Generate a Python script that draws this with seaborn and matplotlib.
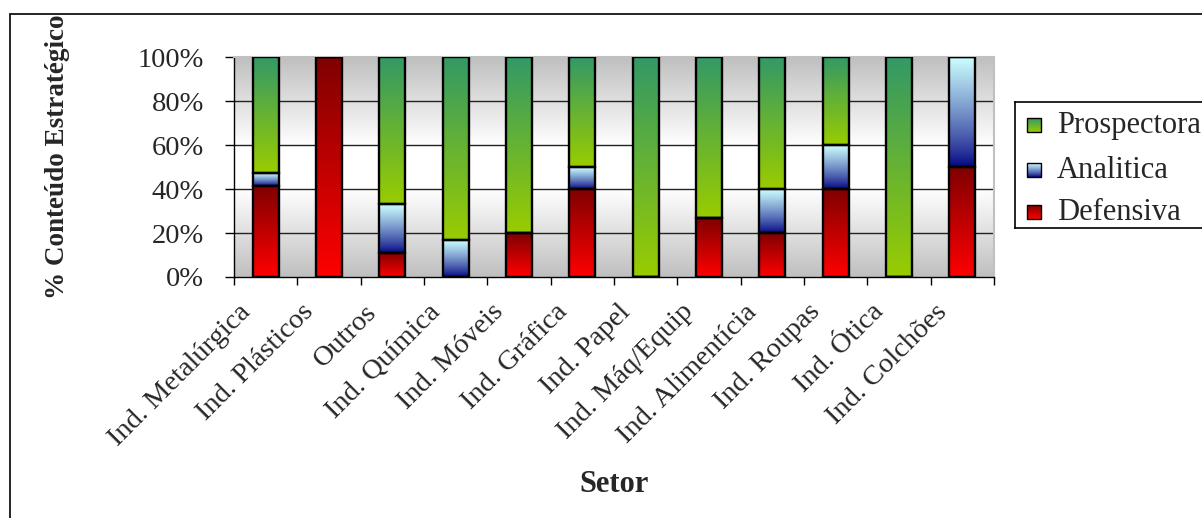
import numpy as np
import pandas as pd
import matplotlib
matplotlib.use("Agg")
import matplotlib.pyplot as plt
import seaborn as sns
from matplotlib.colors import to_rgb
from matplotlib.patches import Rectangle
import matplotlib.transforms as mtransforms

# ---------------- data ----------------
categories = ["Ind. Metalúrgica", "Ind. Plásticos", "Outros", "Ind. Química",
              "Ind. Móveis", "Ind. Gráfica", "Ind. Papel", "Ind. Máq/Equip",
              "Ind. Alimentícia", "Ind. Roupas", "Ind. Ótica", "Ind. Colchões"]
defensiva = [41.2, 100, 11.1, 0, 20, 40, 0, 26.7, 20, 40, 0, 50]
analitica = [5.9, 0, 22.2, 16.7, 0, 10, 0, 0, 20, 20, 0, 50]
prospectora = [52.9, 0, 66.7, 83.3, 80, 50, 100, 73.3, 60, 40, 100, 0]
series_order = ["Defensiva", "Analitica", "Prospectora"]   # bottom -> top
legend_order = ["Prospectora", "Analitica", "Defensiva"]
yticks = [0, 20, 40, 60, 80, 100]
ytick_labels = ["0%", "20%", "40%", "60%", "80%", "100%"]
ylabel = "% Conteúdo Estratégico"
xlabel = "Setor"

# gradient colours (bottom, top, curve exponent)
grad_colors = {
    "Prospectora": ("#99CC00", "#339966", 1.0),
    "Analitica": ("#000080", "#CCFFFF", 0.8),
    "Defensiva": ("#FF0000", "#800000", 1.0),
}

sns.set_style("white")
plt.rcParams["font.family"] = ["Liberation Serif", "DejaVu Serif"]

W, H = 1202, 518
fig = plt.figure(figsize=(W / 100, H / 100), dpi=100)
ax = fig.add_axes([234 / W, 1 - 277 / H, 760 / W, 220 / H])

df = pd.DataFrame({"Setor": categories, "Defensiva": defensiva,
                   "Analitica": analitica, "Prospectora": prospectora})
n = len(categories)


def gradient(name, steps=256):
    cb, ct, ex = grad_colors[name]
    b, t = np.array(to_rgb(cb)), np.array(to_rgb(ct))
    s = np.linspace(0, 1, steps) ** ex
    arr = b[None, :] + (t - b)[None, :] * s[:, None]
    return arr.reshape(steps, 1, 3)


# background gradient (gray - white - gray)
tt = np.linspace(0, 1, 256)
v = 1 - np.abs(tt - 0.5) * 2
g = 0.75 + 0.25 * np.clip(v * 1.25, 0, 1)
bg = np.repeat(g[:, None, None], 3, axis=2)
ax.imshow(bg, extent=(-0.5, n - 0.5, 0, 100), origin="lower", aspect="auto",
          zorder=0, interpolation="bilinear")

lower = np.zeros(n)
for name in series_order:
    vals = df[name].to_numpy(dtype=float)
    top = lower + vals
    before = len(ax.patches)
    sns.barplot(data=df.assign(_top=top), x="Setor", y="_top", order=categories,
                width=0.41, color="white", saturation=1, errorbar=None, ax=ax)
    new = ax.patches[before:]
    for p, b, t in zip(new, lower, top):
        p.set_y(b)
        p.set_height(t - b)
        p.set_facecolor("none")
        p.set_edgecolor("black")
        p.set_linewidth(1.7)
        p.set_zorder(4)
        if t - b > 0:
            x0 = p.get_x()
            ax.imshow(gradient(name), extent=(x0, x0 + p.get_width(), b, t),
                      origin="lower", aspect="auto", zorder=3,
                      interpolation="bilinear")
    lower = top

ax.set_xlim(-0.5, n - 0.5)
ax.set_ylim(0, 100)
ax.set_aspect("auto")

for y in yticks[1:-1]:
    ax.axhline(y, color="#222222", lw=1.0, zorder=1)

ax.set_yticks(yticks, ytick_labels)
ax.tick_params(axis="y", left=True, length=6.5, width=1, pad=15,
               labelsize=20.5, direction="out", color="black")
ax.set_xticks(range(n), categories)
ax.set_xticks(np.arange(-0.5, n, 1), minor=True)
ax.tick_params(axis="x", which="major", bottom=True, length=0, pad=14, labelsize=20.5)
ax.tick_params(axis="x", which="minor", bottom=True, length=6, width=1,
               direction="out", color="black")
shift = mtransforms.ScaledTranslation(-28 / 100, -3 / 100, fig.dpi_scale_trans)
for lab in ax.get_xticklabels():
    lab.set_rotation(45)
    lab.set_ha("right")
    lab.set_va("top")
    lab.set_rotation_mode("anchor")
    lab.set_transform(lab.get_transform() + shift)

ax.set_xlabel("")
ax.set_ylabel("")
for s in ["left", "bottom"]:
    ax.spines[s].set_color("black")
    ax.spines[s].set_linewidth(1.0)
for s in ["top", "right"]:
    ax.spines[s].set_color("#c0c0c0")
    ax.spines[s].set_linewidth(1.5)

fig.text(57 / W, 1 - 157 / H, ylabel, rotation=90, ha="center", va="center",
         fontsize=19.5, fontweight="bold")
fig.text(614 / W, 1 - 484 / H, xlabel, ha="center", va="center",
         fontsize=22, fontweight="bold")

# outer chart border
fig.add_artist(Rectangle((10 / W, -0.2), 2, (H - 14) / H + 0.2,
                         transform=fig.transFigure, fill=False,
                         ec="black", lw=1.2))

# legend
lax = fig.add_axes([1015 / W, 1 - 228 / H, (1210 - 1015) / W, 126 / H])
lax.set_xticks([])
lax.set_yticks([])
for s in lax.spines.values():
    s.set_color("black")
    s.set_linewidth(1.2)
for name, yc in zip(legend_order, [23, 68, 110]):
    lax.imshow(gradient(name), extent=(12, 26, yc + 7, yc - 7),
               origin="lower", aspect="auto", interpolation="bilinear")
    lax.add_patch(Rectangle((12, yc - 7), 14, 14, fill=False, ec="black", lw=1.0))
    lax.text(42, yc, name, va="center", ha="left", fontsize=22)
lax.set_xlim(0, 195)
lax.set_ylim(126, 0)
lax.set_aspect("auto")

fig.savefig("out.png", dpi=100)
